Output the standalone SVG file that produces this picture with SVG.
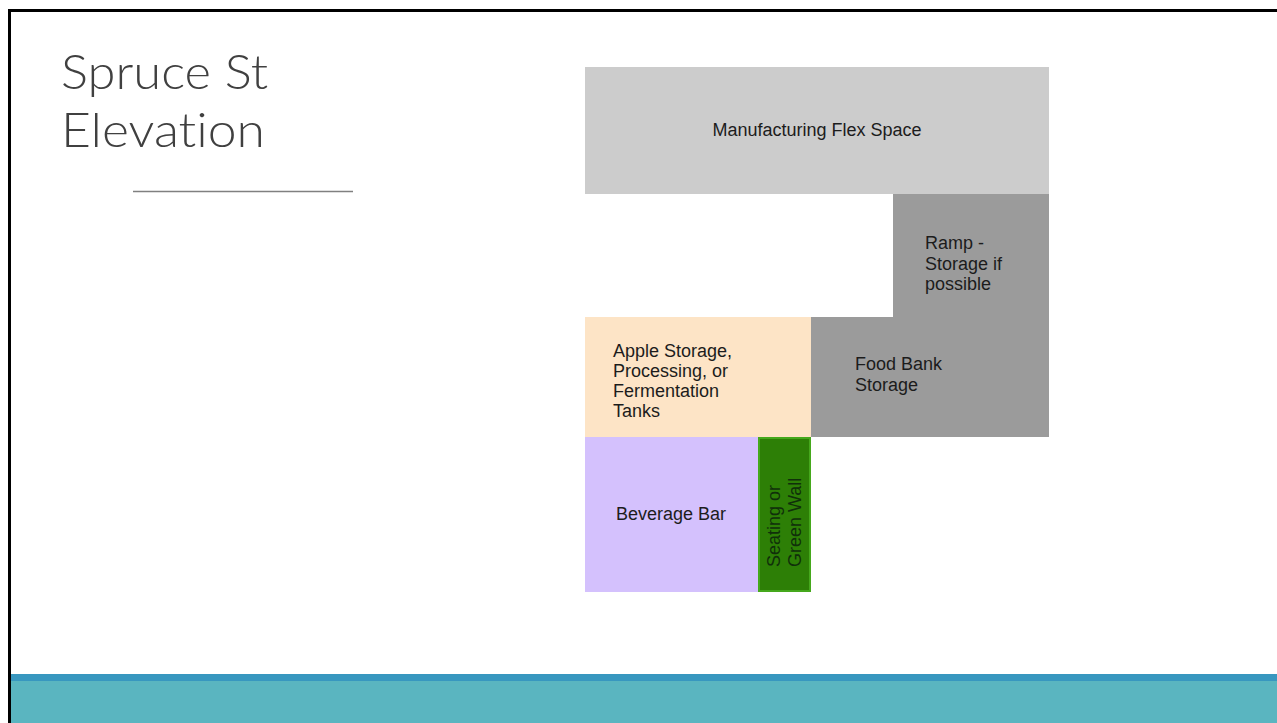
<svg xmlns="http://www.w3.org/2000/svg" width="1277" height="723" viewBox="0 0 1277 723">
<style>
.lbl{font-family:"Liberation Sans",Arial,sans-serif;font-size:18px;fill:#1c1c1c}
.title{font-family:Lato,"Open Sans","Liberation Sans",sans-serif;font-weight:300;font-size:48px;fill:#404040;font-variant-ligatures:none;font-feature-settings:"liga" 0,"dlig" 0}
</style>
<rect x="0" y="0" width="1277" height="723" fill="#ffffff"/>
<g id="frame">
<rect x="8" y="674" width="1269" height="7" fill="#3897bf"/>
<rect x="8" y="681" width="1269" height="42" fill="#5ab5c0"/>
<rect x="8" y="9" width="1269" height="3" fill="#000000"/>
<rect x="8" y="9" width="3" height="714" fill="#000000"/>
</g>
<g id="title">
<text class="title" x="61" y="89" textLength="207" lengthAdjust="spacingAndGlyphs">Spruce St</text>
<text class="title" x="61" y="147" textLength="204" lengthAdjust="spacingAndGlyphs">Elevation</text>
<line x1="133" y1="191.5" x2="353" y2="191.5" stroke="#808080" stroke-width="1.3"/>
</g>
<g id="manufacturing">
<rect x="585" y="67" width="464" height="127" fill="#cccccc"/>
<text class="lbl" x="817" y="136" text-anchor="middle">Manufacturing Flex Space</text>
</g>
<g id="ramp-foodbank-block">
<path d="M893 194 H1049 V437 H811 V317 H893 Z" fill="#9b9b9b"/>
</g>
<g id="ramp">
<text class="lbl" x="925" y="249">Ramp -</text>
<text class="lbl" x="925" y="270">Storage if</text>
<text class="lbl" x="925" y="290">possible</text>
</g>
<g id="foodbank">
<text class="lbl" x="855" y="370">Food Bank</text>
<text class="lbl" x="855" y="391">Storage</text>
</g>
<g id="apple">
<rect x="585" y="317" width="226" height="120" fill="#fde4c6"/>
<text class="lbl" x="613" y="357">Apple Storage,</text>
<text class="lbl" x="613" y="377">Processing, or</text>
<text class="lbl" x="613" y="397">Fermentation</text>
<text class="lbl" x="613" y="417">Tanks</text>
</g>
<g id="beverage">
<rect x="585" y="437" width="173" height="155" fill="#d4c1fd"/>
<text class="lbl" x="616" y="520" fill="#1c1c3c">Beverage Bar</text>
</g>
<g id="seating">
<rect x="759" y="438" width="51" height="153" fill="#2d7f06" stroke="#45a81c" stroke-width="2"/>
<text class="lbl" transform="translate(779.5 567) rotate(-90)" x="0" y="0" style="fill:#10300a">Seating or</text>
<text class="lbl" transform="translate(801 567) rotate(-90)" x="0" y="0" style="fill:#10300a">Green Wall</text>
</g>
<g id="connectors"></g>
</svg>
